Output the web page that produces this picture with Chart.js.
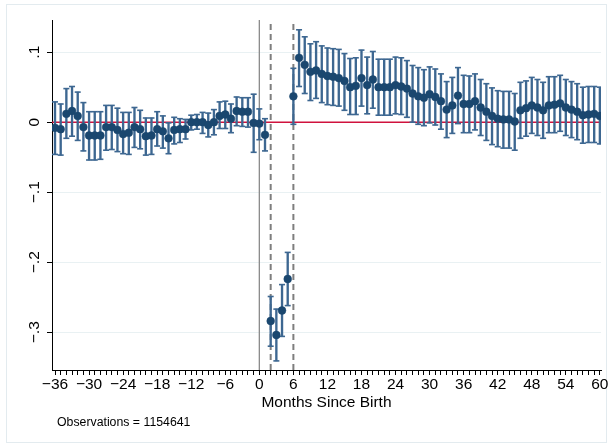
<!DOCTYPE html>
<html>
<head>
<meta charset="utf-8">
<script src="https://cdn.jsdelivr.net/npm/chart.js@4.4.1/dist/chart.umd.min.js"></script>
<style>
  html, body { margin: 0; padding: 0; background: #ffffff; }
  canvas { display: block; }
</style>
</head>
<body>
<canvas id="c" width="610" height="446"></canvas>
<script>
// Event-study estimates by month relative to birth, with 95% confidence intervals
const months = [
  -36, -35, -34, -33, -32, -31, -30, -29, -28, -27, -26, -25, -24, -23, -22, -21, -20, -19,
  -18, -17, -16, -15, -14, -13, -12, -11, -10, -9, -8, -7, -6, -5, -4, -3, -2, -1,
  0, 1, 2, 3, 4, 5, 6, 7, 8, 9, 10, 11, 12, 13, 14, 15, 16, 17,
  18, 19, 20, 21, 22, 23, 24, 25, 26, 27, 28, 29, 30, 31, 32, 33, 34, 35,
  36, 37, 38, 39, 40, 41, 42, 43, 44, 45, 46, 47, 48, 49, 50, 51, 52, 53,
  54, 55, 56, 57, 58, 59, 60
];

const coef = [
  -0.008, -0.010, 0.012, 0.016, 0.009, -0.007, -0.019, -0.019, -0.019, -0.007, -0.007, -0.011, -0.017, -0.015, -0.007, -0.010, -0.020, -0.019,
  -0.010, -0.013, -0.023, -0.011, -0.010, -0.010, 0.000, 0.000, 0.000, -0.004, 0.000, 0.009, 0.011, 0.005, 0.016, 0.015, 0.015, -0.001,
  -0.002, -0.018, -0.284, -0.304, -0.269, -0.224, 0.037, 0.092, 0.082, 0.072, 0.074, 0.069, 0.066, 0.065, 0.063, 0.059, 0.050, 0.052,
  0.063, 0.053, 0.061, 0.050, 0.050, 0.050, 0.053, 0.051, 0.048, 0.041, 0.037, 0.035, 0.040, 0.036, 0.030, 0.018, 0.024, 0.038,
  0.026, 0.026, 0.030, 0.021, 0.015, 0.009, 0.005, 0.004, 0.004, 0.001, 0.017, 0.020, 0.024, 0.021, 0.017, 0.024, 0.025, 0.027,
  0.021, 0.018, 0.015, 0.010, 0.011, 0.012, 0.009
];

const ciLow = [
  -0.046, -0.047, -0.023, -0.020, -0.026, -0.041, -0.054, -0.054, -0.053, -0.040, -0.039, -0.042, -0.045, -0.046, -0.036, -0.038, -0.047, -0.046,
  -0.034, -0.037, -0.045, -0.031, -0.029, -0.024, -0.011, -0.010, -0.016, -0.021, -0.018, -0.009, -0.009, -0.015, -0.005, -0.006, -0.007, -0.043,
  -0.025, -0.041, -0.320, -0.341, -0.306, -0.262, -0.003, 0.051, 0.041, 0.031, 0.034, 0.028, 0.025, 0.024, 0.023, 0.017, 0.011, 0.011,
  0.023, 0.012, 0.020, 0.010, 0.010, 0.010, 0.012, 0.011, 0.007, 0.000, -0.003, -0.005, -0.001, -0.004, -0.010, -0.022, -0.016, -0.002,
  -0.015, -0.015, -0.011, -0.019, -0.026, -0.032, -0.035, -0.037, -0.037, -0.040, -0.023, -0.020, -0.016, -0.019, -0.023, -0.015, -0.015, -0.013,
  -0.019, -0.022, -0.025, -0.030, -0.029, -0.029, -0.031
];

const ciHigh = [
  0.029, 0.026, 0.048, 0.051, 0.043, 0.028, 0.015, 0.015, 0.015, 0.024, 0.024, 0.020, 0.014, 0.014, 0.021, 0.017, 0.006, 0.006,
  0.015, 0.009, -0.001, 0.007, 0.005, 0.004, 0.010, 0.011, 0.014, 0.013, 0.018, 0.029, 0.030, 0.026, 0.036, 0.035, 0.035, 0.040,
  0.019, 0.005, -0.249, -0.267, -0.232, -0.186, 0.077, 0.132, 0.122, 0.112, 0.115, 0.109, 0.106, 0.105, 0.104, 0.098, 0.091, 0.092,
  0.103, 0.093, 0.101, 0.090, 0.090, 0.090, 0.093, 0.092, 0.088, 0.081, 0.078, 0.075, 0.079, 0.076, 0.069, 0.058, 0.064, 0.078,
  0.067, 0.066, 0.069, 0.061, 0.055, 0.049, 0.045, 0.044, 0.044, 0.041, 0.057, 0.059, 0.064, 0.061, 0.057, 0.065, 0.065, 0.067,
  0.061, 0.058, 0.055, 0.050, 0.051, 0.051, 0.050
];

// Axis ticks and labels
const xLabelStep = 6;
const yTickValues = [0.1, 0, -0.1, -0.2, -0.3];
const yTickLabels = ['.1', '0', '\u2212.1', '\u2212.2', '\u2212.3'];

// Reference lines: birth month (solid) and the window marks (dashed)
const birthLine = [0];
const windowLines = [2, 6];

const xTitle = 'Months Since Birth';
const noteText = 'Observations = 1154641';

const xMin = -36.53, xMax = 60.2;
const yMin = -0.354, yMax = 0.146;

const FONT = "'Liberation Sans', Arial, Helvetica, sans-serif";
const NAVY = '#1a476f';
const WHISKER = '#3d6791';

const fmtMonth = v => (v < 0 ? '\u2212' + Math.abs(v) : String(v));

const whiskers = months.map((m, i) => ({ x: m, y: [ciLow[i], ciHigh[i]] }));
const caps = months.flatMap((m, i) => [{ x: m, y: ciLow[i] }, { x: m, y: ciHigh[i] }]);
const points = months.map((m, i) => ({ x: m, y: coef[i] }));

const vLine = (x, color, width, dash, order) => ({
  type: 'line',
  data: [{ x: x, y: yMin }, { x: x, y: yMax }],
  borderColor: color,
  borderWidth: width,
  borderDash: dash,
  pointRadius: 0,
  fill: false,
  order: order
});

const framePlugin = {
  id: 'frame',
  beforeDraw(chart) {
    const ctx = chart.ctx;
    ctx.save();
    ctx.fillStyle = '#ffffff';
    ctx.fillRect(0, 0, chart.width, chart.height);
    ctx.strokeStyle = '#e3ebef';
    ctx.lineWidth = 1;
    ctx.strokeRect(6.5, 4.5, 600, 438);
    ctx.restore();
  }
};

const notePlugin = {
  id: 'note',
  afterDraw(chart) {
    const ctx = chart.ctx;
    ctx.save();
    ctx.fillStyle = '#000000';
    ctx.font = '12.3px ' + FONT;
    ctx.textAlign = 'left';
    ctx.textBaseline = 'middle';
    ctx.fillText(noteText, 57, 423);
    ctx.restore();
  }
};

new Chart(document.getElementById('c'), {
  type: 'scatter',
  data: {
    datasets: [
      {
        type: 'scatter',
        data: points,
        pointRadius: 3.9,
        pointHoverRadius: 3.9,
        pointBackgroundColor: NAVY,
        pointBorderColor: NAVY,
        pointBorderWidth: 0.5,
        order: 0
      },
      {
        type: 'scatter',
        data: caps,
        pointStyle: 'line',
        pointRadius: 3,
        pointHoverRadius: 3,
        pointBorderColor: WHISKER,
        pointBorderWidth: 1.6,
        order: 1
      },
      {
        type: 'bar',
        data: whiskers,
        backgroundColor: WHISKER,
        borderWidth: 0,
        barThickness: 1.7,
        grouped: false,
        order: 2
      },
      {
        type: 'line',
        data: [{ x: xMin, y: 0 }, { x: xMax, y: 0 }],
        borderColor: '#d0123d',
        borderWidth: 1.4,
        pointRadius: 0,
        fill: false,
        order: 3
      },
      ...birthLine.map(x => vLine(x, '#8a8a8a', 1.3, [], 4)),
      ...windowLines.map(x => vLine(x, '#7e7e7e', 2, [6, 4], 4))
    ]
  },
  options: {
    responsive: false,
    devicePixelRatio: 1,
    animation: false,
    events: [],
    layout: { padding: { top: 20, right: 9, bottom: 0, left: 0 } },
    plugins: {
      legend: { display: false },
      tooltip: { enabled: false },
      title: { display: false }
    },
    scales: {
      x: {
        type: 'linear',
        min: xMin,
        max: xMax,
        offset: false,
        afterBuildTicks(scale) {
          scale.ticks = months.map(v => ({ value: v }));
        },
        afterFit(scale) { scale.height = 76; },
        ticks: {
          autoSkip: false,
          maxRotation: 0,
          minRotation: 0,
          padding: 0,
          color: '#000000',
          font: { family: FONT, size: 15.5 },
          callback: v => (v % xLabelStep === 0 ? fmtMonth(v) : '')
        },
        grid: {
          display: true,
          drawOnChartArea: false,
          drawTicks: true,
          tickLength: 5,
          tickColor: '#000000',
          tickWidth: 1,
          offset: false
        },
        border: { display: true, color: '#000000', width: 1 },
        title: {
          display: true,
          text: xTitle,
          color: '#000000',
          font: { family: FONT, size: 15.5 },
          padding: { top: 0, bottom: 34 }
        }
      },
      y: {
        type: 'linear',
        min: yMin,
        max: yMax,
        afterBuildTicks(scale) {
          scale.ticks = yTickValues.map(v => ({ value: v }));
        },
        afterFit(scale) { scale.width = 52; },
        ticks: {
          autoSkip: false,
          minRotation: 90,
          maxRotation: 90,
          crossAlign: 'center',
          padding: 1,
          color: '#000000',
          font: { family: FONT, size: 15.5 },
          callback: (v, i) => yTickLabels[i]
        },
        grid: {
          display: true,
          drawOnChartArea: true,
          color: '#e9f1f3',
          lineWidth: 1,
          drawTicks: true,
          tickLength: 5,
          tickColor: '#000000',
          tickWidth: 1
        },
        border: { display: true, color: '#000000', width: 1 }
      }
    }
  },
  plugins: [framePlugin, notePlugin]
});
</script>
</body>
</html>
